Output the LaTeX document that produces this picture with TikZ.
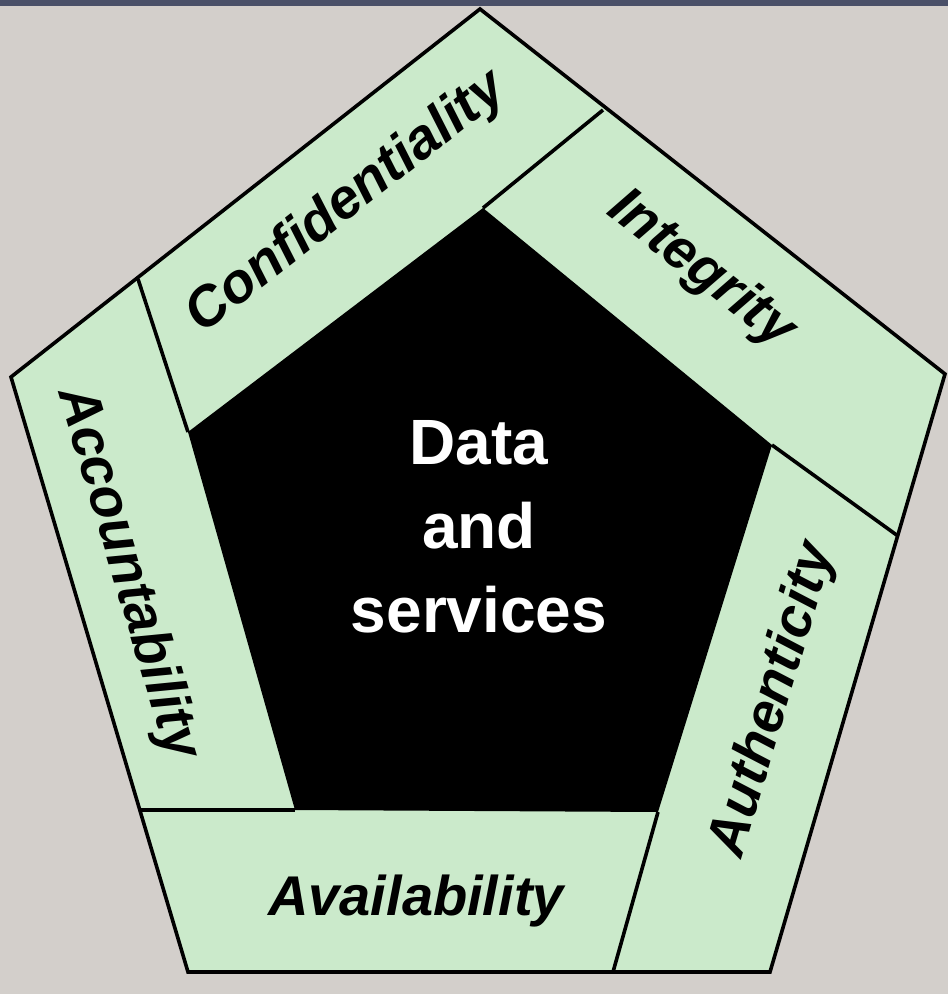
\documentclass[tikz,border=0pt]{standalone}
\usepackage{fontspec}
\setmainfont{Liberation Sans}
\usetikzlibrary{calc}
\definecolor{paper}{HTML}{D3CFCB}
\definecolor{topbar}{HTML}{4A5068}
\definecolor{band}{HTML}{CBEACB}
\newcommand{\labelfont}{\fontsize{56}{60}\selectfont\bfseries\itshape}
\newcommand{\corefont}{\fontsize{64}{84}\selectfont\bfseries}

\begin{document}
\begin{tikzpicture}[x=1pt,y=-1pt,inner sep=0in,outer sep=0in,
	edge/.style={line width=3.6pt,line join=miter},
	bandlabel/.style={font=\labelfont,text=black}]
	\useasboundingbox (0,0) rectangle (948,994);
	\fill[paper] (0,0) rectangle (948,994);
	\fill[topbar] (0,0) rectangle (948,6);
	% outer pentagon
	\coordinate (o1) at (480,9);
	\coordinate (o2) at (945,374);
	\coordinate (o3) at (770,972);
	\coordinate (o4) at (188,972);
	\coordinate (o5) at (11,377);
	% inner pentagon
	\coordinate (i1) at (483,208);
	\coordinate (i2) at (772,445);
	\coordinate (i3) at (658,812);
	\coordinate (i4) at (295,810);
	\coordinate (i5) at (188,432);
	% where the bands meet the outer rim
	\coordinate (c1) at (603,110);
	\coordinate (c2) at (898,536);
	\coordinate (c3) at (613,972);
	\coordinate (c4) at (140,810);
	\coordinate (c5) at (138,279);
	\filldraw[edge,fill=band] (o1)--(o2)--(o3)--(o4)--(o5)--cycle;
	\fill[black] (i1)--(i2)--(i3)--(i4)--(i5)--cycle;
	\draw[edge] (c1)--(i1);
	\draw[edge] (c2)--(i2);
	\draw[edge] (c3)--(i3);
	\draw[edge] (c4)--(i4);
	\draw[edge] (c5)--(i5);
	% labels
	\node[bandlabel,rotate=38] (conf) at (347,203) {Confidentiality};
	\node[bandlabel,rotate=-38] (integ) at (701,270) {Integrity};
	\node[bandlabel,rotate=73.5] (auth) at (774,700) {Authenticity};
	\node[bandlabel,anchor=base] (avail) at (416,915) {Availability};
	\node[bandlabel,rotate=-73.4] (acct) at (127,573) {Accountability};
	\node[font=\corefont,text=white,align=center] (core) at (479,527) {Data\\and\\services};
\end{tikzpicture}
\end{document}
